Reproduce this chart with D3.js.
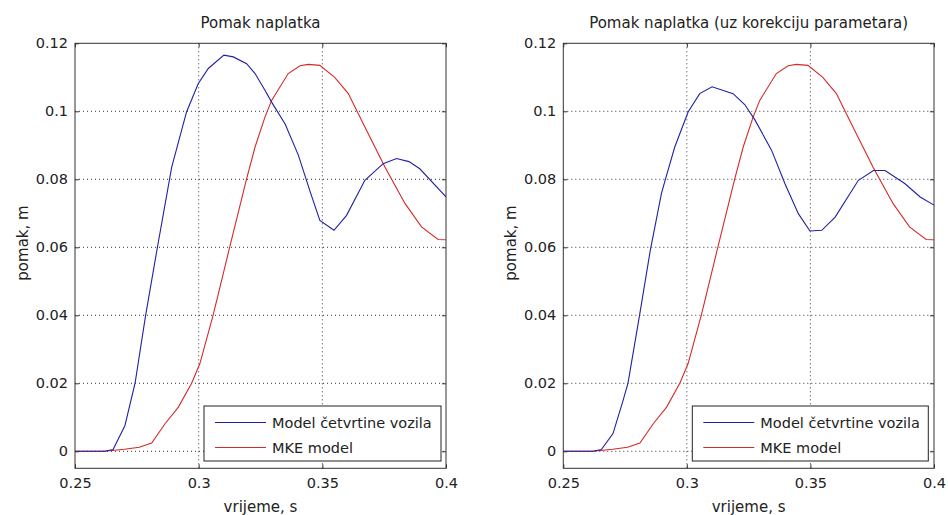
<!DOCTYPE html>
<html><head><meta charset="utf-8">
<script src="https://cdn.jsdelivr.net/npm/d3@7"></script>
<style>body{margin:0;background:#fff}svg{display:block}text{font-family:"DejaVu Sans",sans-serif;fill:#222}</style>
</head><body><svg id="c" width="948" height="515"></svg>
<script>
const titles = ["Pomak naplatka", "Pomak naplatka (uz korekciju parametara)"];
const seriesNames = ["Model četvrtine vozila", "MKE model"];
const xTicks = [0.25, 0.3, 0.35, 0.4];
const yTicks = [0, 0.02, 0.04, 0.06, 0.08, 0.1, 0.12];
const xLabel = "vrijeme, s";
const yLabel = "pomak, m";

const blueLeftT = [0.25,0.262,0.2654,0.2702,0.2743,0.2786,0.2832,0.2891,0.2951,0.2998,0.3039,0.3102,0.3140,0.3194,0.3228,0.3268,0.3295,0.3350,0.3403,0.3451,0.3490,0.3547,0.3598,0.3672,0.3746,0.3800,0.3850,0.3894,0.4];
const blueLeftV = [0,0,0.0005,0.0076,0.0201,0.0402,0.0595,0.0836,0.0998,0.1081,0.1126,0.1165,0.1160,0.1140,0.1111,0.1062,0.1027,0.0962,0.0871,0.0763,0.0679,0.0650,0.0694,0.0797,0.0846,0.0861,0.0852,0.0831,0.0748];

const blueRightT = [0.25,0.262,0.2654,0.2701,0.2742,0.2762,0.2809,0.2852,0.2897,0.2914,0.2951,0.3005,0.3052,0.3102,0.3187,0.3234,0.3276,0.3343,0.3397,0.3451,0.3498,0.3546,0.3600,0.3694,0.3755,0.3802,0.3883,0.3944,0.4];
const blueRightV = [0,0,0.0005,0.0052,0.0150,0.0201,0.0402,0.0591,0.0758,0.0802,0.0895,0.0998,0.1052,0.1072,0.1052,0.1020,0.0974,0.0885,0.0787,0.0699,0.0648,0.0650,0.0689,0.0797,0.0826,0.0826,0.0787,0.0748,0.0724];

const redT = [0.25,0.262,0.270,0.276,0.281,0.2864,0.2918,0.2972,0.3005,0.3059,0.3122,0.3194,0.3228,0.3268,0.3295,0.3362,0.3410,0.3443,0.3490,0.3550,0.3605,0.3672,0.3753,0.3834,0.3901,0.3968,0.4];
const redV = [0,0,0.0006,0.0012,0.0024,0.0081,0.0130,0.0201,0.0258,0.0402,0.0590,0.0802,0.0895,0.0983,0.1032,0.1111,0.1134,0.1138,0.1135,0.1100,0.1052,0.0954,0.0836,0.0729,0.0660,0.0623,0.0622];

const colors = ["#2020a4", "#d42a2a"];
const svg = d3.select("#c");
const FONT = "'DejaVu Sans',sans-serif";

const panels = [
  {x0:75, x1:446, title:titles[0], blue:[blueLeftT,blueLeftV], legX:204, legW:237},
  {x0:563.3, x1:934, title:titles[1], blue:[blueRightT,blueRightV], legX:692.3, legW:236}
];
const yTop = 43.3, yBot = 468.3;

panels.forEach(p => {
  const x = d3.scaleLinear().domain([0.25,0.4]).range([p.x0,p.x1]);
  const y = d3.scaleLinear().domain([-0.005,0.12]).range([yBot,yTop]);
  const g = svg.append("g");
  g.append("rect").attr("x",p.x0).attr("y",yTop).attr("width",p.x1-p.x0).attr("height",yBot-yTop).attr("fill","#fff");
  g.selectAll(".gx").data(xTicks.slice(1,-1)).join("line")
    .attr("x1",d=>x(d)).attr("x2",d=>x(d)).attr("y1",yTop).attr("y2",yBot)
    .attr("stroke","#333").attr("stroke-width",1).attr("stroke-dasharray","1,3");
  g.selectAll(".gy").data(yTicks.slice(0,-1)).join("line")
    .attr("y1",d=>y(d)).attr("y2",d=>y(d)).attr("x1",p.x0).attr("x2",p.x1)
    .attr("stroke","#333").attr("stroke-width",1).attr("stroke-dasharray","1,3");
  const axB = g.append("g").attr("transform",`translate(0,${yBot})`)
    .call(d3.axisBottom(x).tickValues(xTicks).tickSize(-4).tickPadding(9).tickFormat(d=>String(d)));
  const axT = g.append("g").attr("transform",`translate(0,${yTop})`)
    .call(d3.axisTop(x).tickValues(xTicks).tickSize(-4).tickFormat(""));
  const axL = g.append("g").attr("transform",`translate(${p.x0},0)`)
    .call(d3.axisLeft(y).tickValues(yTicks).tickSize(-4).tickPadding(7).tickFormat(d=>String(d)));
  const axR = g.append("g").attr("transform",`translate(${p.x1},0)`)
    .call(d3.axisRight(y).tickValues(yTicks).tickSize(-4).tickFormat(""));
  [axB,axT,axL,axR].forEach(a=>{
    a.select(".domain").remove();
    a.selectAll("line").attr("stroke","#333");
    a.selectAll("text").attr("font-size","14.5px").attr("fill","#222").style("font-family",FONT);
  });
  axB.selectAll("text").attr("dy","0.71em");
  g.append("rect").attr("x",p.x0).attr("y",yTop).attr("width",p.x1-p.x0).attr("height",yBot-yTop)
    .attr("fill","none").attr("stroke","#333").attr("stroke-width",1);

  const line = d3.line().x(d=>x(d[0])).y(d=>y(d[1]));
  const bluePts = p.blue[0].map((t,i)=>[t,p.blue[1][i]]);
  const redPts = redT.map((t,i)=>[t,redV[i]]);
  g.append("path").datum(redPts).attr("d",line).attr("fill","none").attr("stroke",colors[1]).attr("stroke-width",1.1);
  g.append("path").datum(bluePts).attr("d",line).attr("fill","none").attr("stroke",colors[0]).attr("stroke-width",1.1);

  g.append("text").attr("x",(p.x0+p.x1)/2).attr("y",28).attr("text-anchor","middle").attr("font-size","15px").text(p.title);
  g.append("text").attr("x",(p.x0+p.x1)/2).attr("y",512).attr("text-anchor","middle").attr("font-size","15px").text(xLabel);
  g.append("text").attr("transform",`translate(${p.x0-47},${243}) rotate(-90)`).attr("text-anchor","middle").attr("font-size","15px").text(yLabel);

  const lg = g.append("g");
  lg.append("rect").attr("x",p.legX).attr("y",406).attr("width",p.legW).attr("height",55)
    .attr("fill","#fff").attr("stroke","#222").attr("stroke-width",1);
  seriesNames.forEach((n,i)=>{
    const yy = 422.5 + i*25;
    lg.append("line").attr("x1",p.legX+11).attr("x2",p.legX+62).attr("y1",yy).attr("y2",yy)
      .attr("stroke",colors[i]).attr("stroke-width",1.1);
    lg.append("text").attr("x",p.legX+68).attr("y",yy).attr("dy","0.36em").attr("font-size","14.5px").text(n);
  });
});
</script></body></html>
